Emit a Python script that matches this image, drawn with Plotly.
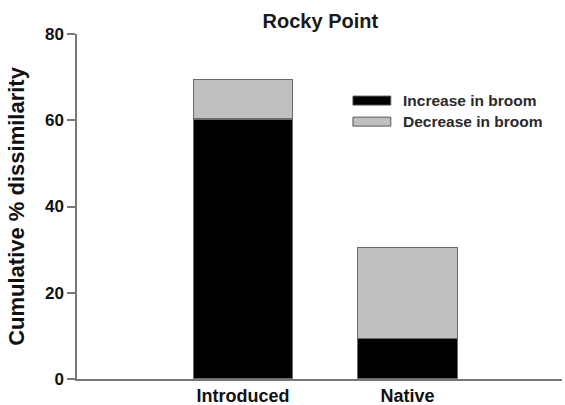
import plotly.graph_objects as go

categories = ["Introduced", "Native"]
increase_in_broom = [60.3, 9.3]
decrease_in_broom = [9.2, 21.2]
y_ticks = [0, 20, 40, 60, 80]
series_names = ["Increase in broom", "Decrease in broom"]
series_colors = ["#000000", "#c0c0c0"]

FONT = "Liberation Sans, Arial, sans-serif"

fig = go.Figure()
for name, vals, col in zip(series_names, [increase_in_broom, decrease_in_broom], series_colors):
    fig.add_trace(go.Bar(
        x=categories, y=vals, name=name,
        marker=dict(color=col, line=dict(color="#6a6a6a", width=1.2)),
        width=0.605, showlegend=False,
    ))

# legend drawn as swatches + labels (paper coordinates)
legend_rows = [(0.807, 0.794, 0.820), (0.746, 0.733, 0.759)]
for (ty, y0, y1), name, col in zip(legend_rows, series_names, series_colors):
    fig.add_shape(type="rect", xref="paper", yref="paper",
                  x0=0.569, x1=0.647, y0=y0, y1=y1,
                  fillcolor=col, line=dict(color="#555555", width=1))
    fig.add_annotation(xref="paper", yref="paper", x=0.668, y=ty,
                       xanchor="left", yanchor="middle", showarrow=False,
                       text=f"<b>{name}</b>",
                       font=dict(family=FONT, size=15.5, color="#2a2a2a"))

fig.update_layout(
    width=565, height=405,
    barmode="stack",
    paper_bgcolor="white", plot_bgcolor="white",
    margin=dict(l=77, r=3, t=34, b=26, autoexpand=False),
    title=dict(text="<b>Rocky Point</b>", x=0.567, xanchor="center",
               y=0.948, yanchor="middle",
               font=dict(family=FONT, size=20, color="#1a1a1a")),
    font=dict(family=FONT),
    showlegend=False,
)
fig.update_xaxes(
    range=[-1.01, 1.94], showline=True, linecolor="#777777", linewidth=1.5,
    ticks="", showgrid=False, zeroline=False,
    tickfont=dict(family=FONT, size=18, color="#111111"),
    ticktext=["<b>Introduced</b>", "<b>Native</b>"], tickvals=categories,
)
fig.update_yaxes(
    range=[0, 80], tickvals=y_ticks, ticktext=[f"<b>{v}</b>" for v in y_ticks],
    showline=True, linecolor="#777777", linewidth=1.5,
    ticks="outside", ticklen=8, tickcolor="#777777", tickwidth=1.5,
    showgrid=False, zeroline=False,
    tickfont=dict(family=FONT, size=17, color="#111111"),
    title=dict(text="<b>Cumulative % dissimilarity</b>", standoff=14,
               font=dict(family=FONT, size=22, color="#111111")),
)

fig.write_html(
    "out.html",
    config={"displayModeBar": False},
    post_script="document.body.style.margin='0';document.body.style.overflow='hidden';",
)
